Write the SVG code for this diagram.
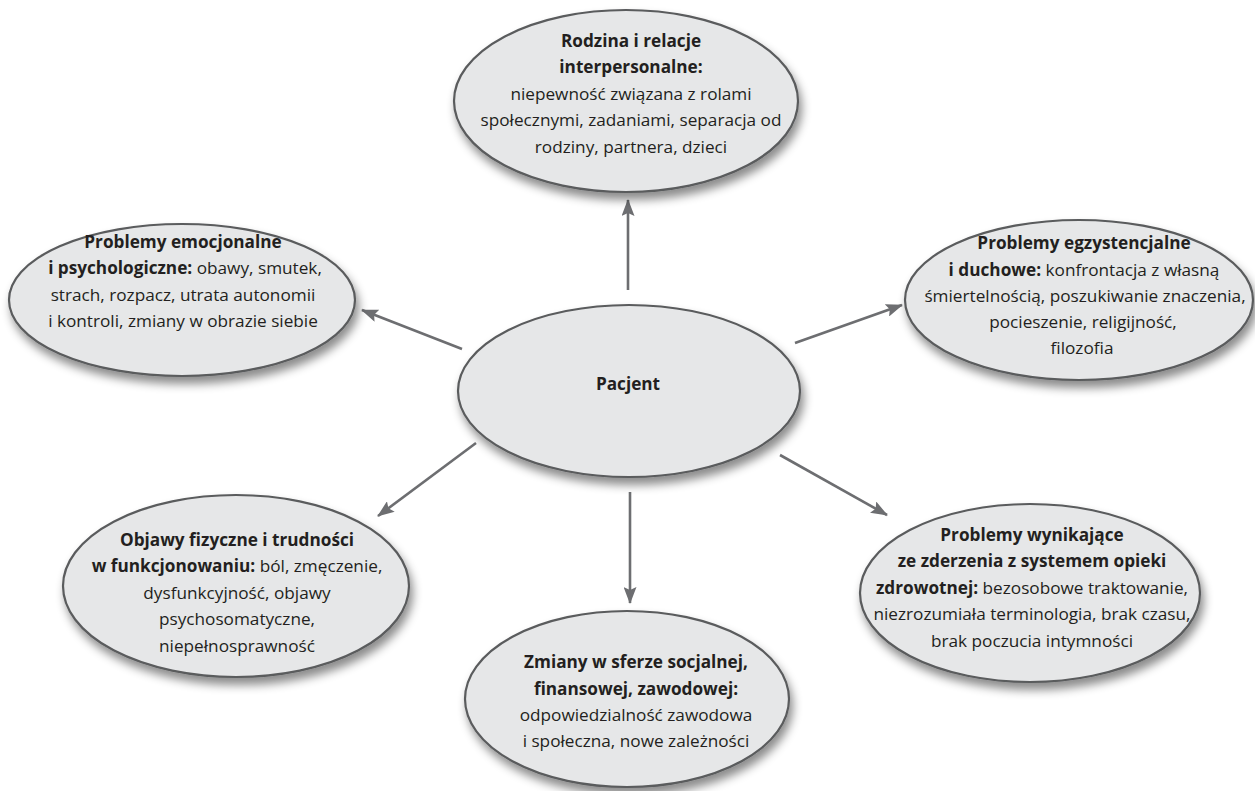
<svg xmlns="http://www.w3.org/2000/svg" width="1255" height="791" viewBox="0 0 1255 791">
<style>
.node ellipse{fill:#e6e7e8;stroke:#5a5b5d;stroke-width:2.2;filter:url(#sh)}
text{font-family:"Open Sans","Noto Sans",sans-serif;font-size:17.2px;fill:#231f20;text-anchor:middle}
.b{font-weight:700}
.conn line{stroke:#6d6e71;stroke-width:2.6;marker-end:url(#ah)}
</style>
<defs>
<filter id="sh" x="-10%" y="-10%" width="125%" height="140%">
<feDropShadow dx="3" dy="7" stdDeviation="5" flood-color="#000" flood-opacity="0.45"/>
</filter>
<marker id="ah" viewBox="0 0 17 13" refX="16" refY="6.5" markerWidth="17" markerHeight="13" markerUnits="userSpaceOnUse" orient="auto">
<path d="M0,0 L17,6.5 L0,13 L3,6.5 z" fill="#6d6e71"/>
</marker>
</defs>
<g class="conn">
<line x1="628" y1="290" x2="628" y2="200"/>
<line x1="462" y1="349" x2="362" y2="310"/>
<line x1="795" y1="343" x2="902" y2="305"/>
<line x1="476" y1="443" x2="378" y2="516"/>
<line x1="630" y1="492" x2="630" y2="603"/>
<line x1="780" y1="455" x2="887" y2="515"/>
</g>
<g id="n-rodzina" class="node">
<ellipse cx="626" cy="101" rx="172" ry="91"/>
<text x="631" y="47" class="b">Rodzina i relacje</text>
<text x="631" y="73" class="b">interpersonalne:</text>
<text x="631" y="100">niepewność związana z rolami</text>
<text x="631" y="126">społecznymi, zadaniami, separacja od</text>
<text x="631" y="153">rodziny, partnera, dzieci</text>
</g>
<g id="n-emocjonalne" class="node">
<ellipse cx="182" cy="300" rx="173" ry="76"/>
<text x="183" y="248" class="b">Problemy emocjonalne</text>
<text x="185" y="274"><tspan class="b">i psychologiczne:</tspan> obawy, smutek,</text>
<text x="183" y="301">strach, rozpacz, utrata autonomii</text>
<text x="183" y="327">i kontroli, zmiany w obrazie siebie</text>
</g>
<g id="n-egzystencjalne" class="node">
<ellipse cx="1079" cy="300" rx="174" ry="80"/>
<text x="1084" y="249" class="b">Problemy egzystencjalne</text>
<text x="1084" y="276"><tspan class="b">i duchowe:</tspan> konfrontacja z własną</text>
<text x="1085" y="302">śmiertelnością, poszukiwanie znaczenia,</text>
<text x="1083" y="328">pocieszenie, religijność,</text>
<text x="1082" y="354">filozofia</text>
</g>
<g id="n-pacjent" class="node">
<ellipse cx="629" cy="391" rx="171" ry="86"/>
<text x="628" y="390" class="b">Pacjent</text>
</g>
<g id="n-objawy" class="node">
<ellipse cx="236" cy="586" rx="173" ry="91"/>
<text x="237" y="546" class="b">Objawy fizyczne i trudności</text>
<text x="237" y="572"><tspan class="b">w funkcjonowaniu:</tspan> ból, zmęczenie,</text>
<text x="237" y="599">dysfunkcyjność, objawy</text>
<text x="237" y="625">psychosomatyczne,</text>
<text x="237" y="652">niepełnosprawność</text>
</g>
<g id="n-zmiany" class="node">
<ellipse cx="627" cy="699" rx="162" ry="88"/>
<text x="636" y="668" class="b">Zmiany w sferze socjalnej,</text>
<text x="636" y="695" class="b">finansowej, zawodowej:</text>
<text x="636" y="721">odpowiedzialność zawodowa</text>
<text x="636" y="747">i społeczna, nowe zależności</text>
</g>
<g id="n-system" class="node">
<ellipse cx="1030" cy="593" rx="170" ry="89"/>
<text x="1032" y="541" class="b">Problemy wynikające</text>
<text x="1032" y="567" class="b">ze zderzenia z systemem opieki</text>
<text x="1032" y="594"><tspan class="b">zdrowotnej:</tspan> bezosobowe traktowanie,</text>
<text x="1032" y="620">niezrozumiała terminologia, brak czasu,</text>
<text x="1032" y="647">brak poczucia intymności</text>
</g>
</svg>
